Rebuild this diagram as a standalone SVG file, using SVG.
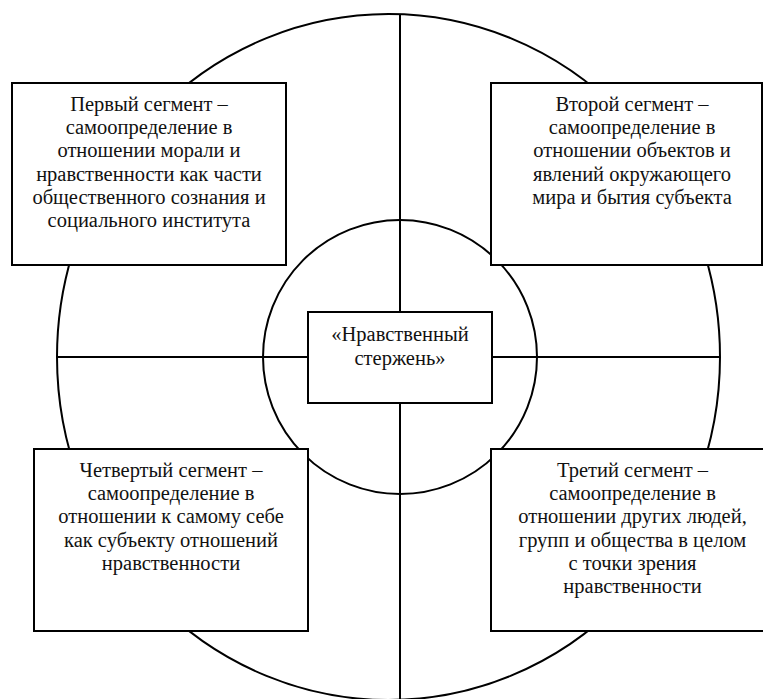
<svg xmlns="http://www.w3.org/2000/svg" width="763" height="699" viewBox="0 0 763 699">
<style>
.ln{stroke:#000;stroke-width:2;fill:none}
.bx{stroke:#000;stroke-width:2;fill:#fff}
.t{font-family:'Liberation Serif','Times New Roman',serif;font-size:20.5px;fill:#111;text-anchor:middle}
</style>
<rect width="763" height="699" fill="#fff"/>
<g id="connectors">
<ellipse class="ln" cx="388.5" cy="357" rx="331.5" ry="343"/>
<line class="ln" x1="400" y1="14" x2="400" y2="699"/>
<line class="ln" x1="57" y1="357" x2="720" y2="357"/>
<circle class="ln" cx="400" cy="357" r="137"/>
</g>
<g id="center">
<rect class="bx" x="308" y="312" width="184" height="91"/>
<text class="t"><tspan x="400" y="340.7">«Нравственный</tspan><tspan x="400" y="365">стержень»</tspan></text>
</g>
<g id="seg1">
<rect class="bx" x="12" y="83" width="274" height="182"/>
<text class="t"><tspan x="149" y="110.7">Первый сегмент –</tspan><tspan x="149" y="134">самоопределение в</tspan><tspan x="149" y="157.3">отношении морали и</tspan><tspan x="149" y="180.6">нравственности как части</tspan><tspan x="149" y="204">общественного сознания и</tspan><tspan x="149" y="227.3">социального института</tspan></text>
</g>
<g id="seg2">
<rect class="bx" x="491" y="83" width="271" height="182"/>
<text class="t"><tspan x="632" y="110.7">Второй сегмент –</tspan><tspan x="632" y="134">самоопределение в</tspan><tspan x="632" y="157.3">отношении объектов и</tspan><tspan x="632" y="180.6">явлений окружающего</tspan><tspan x="632" y="204">мира и бытия субъекта</tspan></text>
</g>
<g id="seg4">
<rect class="bx" x="34" y="449" width="274" height="182"/>
<text class="t"><tspan x="171" y="476.7">Четвертый сегмент –</tspan><tspan x="171" y="500">самоопределение в</tspan><tspan x="171" y="523.3">отношении к самому себе</tspan><tspan x="171" y="546.6">как субъекту отношений</tspan><tspan x="171" y="570">нравственности</tspan></text>
</g>
<g id="seg3">
<rect class="bx" x="491" y="449" width="290" height="182"/>
<text class="t"><tspan x="632.5" y="476.7">Третий сегмент –</tspan><tspan x="632.5" y="500">самоопределение в</tspan><tspan x="632.5" y="523.3">отношении других людей,</tspan><tspan x="632.5" y="546.6">групп и общества в целом</tspan><tspan x="632.5" y="570">с точки зрения</tspan><tspan x="632.5" y="593.3">нравственности</tspan></text>
</g>
</svg>
